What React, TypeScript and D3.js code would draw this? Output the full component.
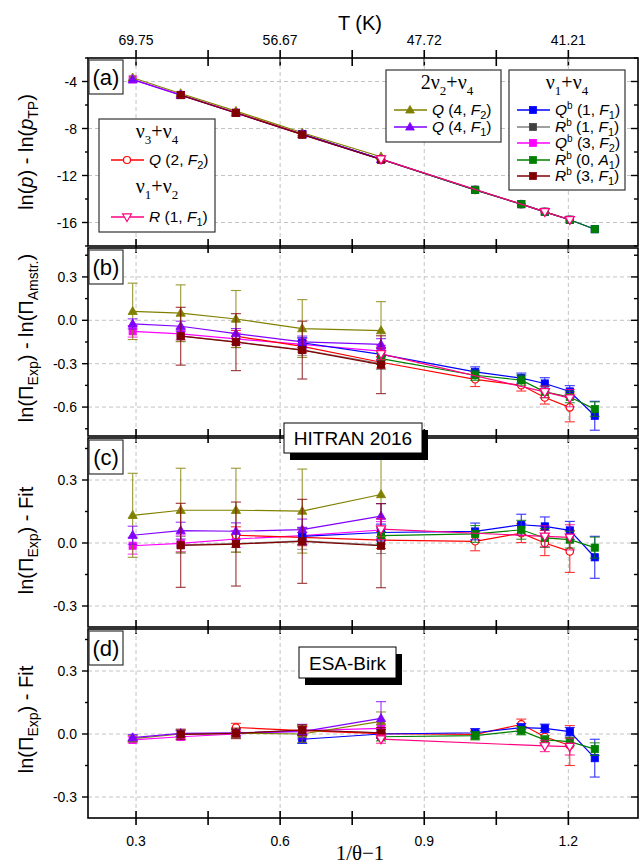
import React from "react";
import * as d3 from "d3";

// ---------- data ----------
const xValues = [0.293, 0.393, 0.508, 0.646, 0.81, 1.006, 1.102, 1.151, 1.203, 1.255];
const xMajorTicks = [0.3, 0.6, 0.9, 1.2];
const xMinorTicks = [0.45, 0.75, 1.05];
const tempLabels = ["69.75", "56.67", "47.72", "41.21"];

// which temperature points each band was measured at
const idxRed = [2, 3, 4, 5, 6, 7, 8];
const idxPink = [4, 7, 8];
const idxOlive = [0, 1, 2, 3, 4];
const idxPurple = [0, 1, 2, 3, 4];
const idxMagenta = [0, 1, 2, 3, 4];
const idxDarkRed = [1, 2, 3, 4];
const idxGray = [1, 2, 3, 4];
const idxBlue = [3, 4, 5, 6, 7, 8, 9];
const idxGreen = [4, 5, 6, 7, 8, 9];

// nu3+nu4 Q(2,F2)
const redA = [-6.64, -8.48, -10.61, -13.22, -14.44, -15.09, -15.77];
const redB = [-0.11, -0.18, -0.29, -0.408, -0.449, -0.534, -0.602];
const redBErr = [0.04, 0.04, 0.04, 0.05, 0.04, 0.045, 0.1];
const redC = [0.037, 0.027, 0.014, 0.008, 0.047, 0.0, -0.04];
const redCErr = [0.04, 0.04, 0.04, 0.045, 0.045, 0.06, 0.1];
const redD = [0.031, 0.016, 0.002, -0.002, 0.046, -0.013, -0.055];
const redDErr = [0.02, 0.02, 0.02, 0.02, 0.025, 0.03, 0.095];

// nu1+nu2 R(1,F1)
const pinkA = [-10.61, -15.09, -15.77];
const pinkB = [-0.232, -0.495, -0.538];
const pinkBErr = [0.04, 0.04, 0.06];
const pinkC = [0.066, 0.032, 0.027];
const pinkCErr = [0.05, 0.05, 0.06];
const pinkD = [-0.024, -0.057, -0.06];
const pinkDErr = [0.02, 0.027, 0.04];

// 2nu2+nu4 Q(4,F2)
const oliveA = [-3.68, -5.02, -6.52, -8.36, -10.4];
const oliveB = [0.062, 0.05, 0.009, -0.057, -0.071];
const oliveBErr = [0.195, 0.195, 0.197, 0.2, 0.2];
const oliveC = [0.132, 0.156, 0.156, 0.152, 0.231];
const oliveCErr = [0.2, 0.2, 0.2, 0.2, 0.2];
const oliveD = [-0.022, 0.0, 0.004, 0.0, 0.06];
const oliveDErr = [0.015, 0.015, 0.02, 0.04, 0.045];

// 2nu2+nu4 Q(4,F1)
const purpleA = [-3.84, -5.16, -6.68, -8.5, -10.63];
const purpleB = [-0.025, -0.041, -0.092, -0.149, -0.167];
const purpleBErr = [0.035, 0.035, 0.035, 0.04, 0.04];
const purpleC = [0.037, 0.059, 0.056, 0.064, 0.128];
const purpleCErr = [0.043, 0.04, 0.04, 0.05, 0.06];
const purpleD = [-0.017, 0.003, 0.006, 0.011, 0.074];
const purpleDErr = [0.015, 0.015, 0.015, 0.035, 0.08];

// nu1+nu4 Qb(3,F2)
const magentaA = [-3.82, -5.14, -6.65, -8.49, -10.62];
const magentaB = [-0.076, -0.094, -0.128, -0.167, -0.213];
const magentaBErr = [0.04, 0.04, 0.04, 0.04, 0.04];
const magentaC = [-0.013, -0.002, 0.019, 0.035, 0.062];
const magentaCErr = [0.04, 0.04, 0.04, 0.04, 0.04];
const magentaD = [-0.028, -0.013, 0.0, 0.016, 0.027];
const magentaDErr = [0.015, 0.015, 0.015, 0.015, 0.015];

// nu1+nu4 Rb(3,F1)
const darkRedA = [-5.16, -6.68, -8.52, -10.64];
const darkRedB = [-0.11, -0.151, -0.206, -0.307];
const darkRedBErr = [0.2, 0.197, 0.2, 0.2];
const darkRedC = [-0.011, -0.005, 0.008, -0.013];
const darkRedCErr = [0.2, 0.2, 0.2, 0.2];
const darkRedD = [-0.002, 0.003, 0.019, 0.006];
const darkRedDErr = [0.025, 0.025, 0.025, 0.025];

// nu1+nu4 Rb(1,F1)
const grayA = [-5.15, -6.67, -8.51, -10.63];
const grayB = [-0.108, -0.149, -0.204, -0.3];
const grayBErr = [0.04, 0.04, 0.04, 0.04];
const grayC = [-0.009, -0.003, 0.01, -0.01];
const grayCErr = [0.04, 0.04, 0.04, 0.04];
const grayD = [-0.002, 0.003, 0.018, 0.005];
const grayDErr = [0.02, 0.02, 0.02, 0.02];

// nu1+nu4 Qb(1,F1)
const blueA = [-8.48, -10.61, -13.22, -14.44, -15.09, -15.77, -16.57];
const blueB = [-0.155, -0.236, -0.357, -0.4, -0.437, -0.492, -0.66];
const blueBErr = [0.035, 0.04, 0.035, 0.035, 0.04, 0.04, 0.1];
const blueC = [0.032, 0.05, 0.055, 0.087, 0.079, 0.06, -0.068];
const blueCErr = [0.04, 0.04, 0.04, 0.05, 0.045, 0.043, 0.1];
const blueD = [-0.025, 0.0, 0.006, 0.03, 0.027, 0.011, -0.115];
const blueDErr = [0.02, 0.02, 0.02, 0.02, 0.02, 0.02, 0.09];

// nu1+nu4 Rb(0,A1)
const greenA = [-10.62, -13.22, -14.44, -15.09, -15.77, -16.57];
const greenB = [-0.265, -0.38, -0.414, -0.495, -0.53, -0.614];
const greenBErr = [0.04, 0.035, 0.035, 0.04, 0.04, 0.05];
const greenC = [0.035, 0.043, 0.063, 0.024, 0.016, -0.022];
const greenCErr = [0.04, 0.04, 0.045, 0.045, 0.04, 0.05];
const greenD = [-0.013, -0.008, 0.016, -0.028, -0.036, -0.072];
const greenDErr = [0.02, 0.02, 0.02, 0.02, 0.02, 0.03];

type Shape = "square" | "circle" | "up" | "down";
interface Series {
  key: string;
  line: string;
  mark: string;
  shape: Shape;
  open: boolean;
  idx: number[];
  vals: number[][]; // per panel a,b,c,d
  errs: (number[] | null)[];
}

const series: Series[] = [
  { key: "gray", line: "#808080", mark: "#404040", shape: "square", open: false, idx: idxGray, vals: [grayA, grayB, grayC, grayD], errs: [null, grayBErr, grayCErr, grayDErr] },
  { key: "magenta", line: "#FF00FF", mark: "#FF00FF", shape: "square", open: false, idx: idxMagenta, vals: [magentaA, magentaB, magentaC, magentaD], errs: [null, magentaBErr, magentaCErr, magentaDErr] },
  { key: "red", line: "#FF0000", mark: "#FF0000", shape: "circle", open: true, idx: idxRed, vals: [redA, redB, redC, redD], errs: [null, redBErr, redCErr, redDErr] },
  { key: "blue", line: "#0000FF", mark: "#0000FF", shape: "square", open: false, idx: idxBlue, vals: [blueA, blueB, blueC, blueD], errs: [null, blueBErr, blueCErr, blueDErr] },
  { key: "green", line: "#008000", mark: "#008000", shape: "square", open: false, idx: idxGreen, vals: [greenA, greenB, greenC, greenD], errs: [null, greenBErr, greenCErr, greenDErr] },
  { key: "olive", line: "#808000", mark: "#808000", shape: "up", open: false, idx: idxOlive, vals: [oliveA, oliveB, oliveC, oliveD], errs: [null, oliveBErr, oliveCErr, oliveDErr] },
  { key: "purple", line: "#8000FF", mark: "#8000FF", shape: "up", open: false, idx: idxPurple, vals: [purpleA, purpleB, purpleC, purpleD], errs: [null, purpleBErr, purpleCErr, purpleDErr] },
  { key: "darkred", line: "#800000", mark: "#800000", shape: "square", open: false, idx: idxDarkRed, vals: [darkRedA, darkRedB, darkRedC, darkRedD], errs: [null, darkRedBErr, darkRedCErr, darkRedDErr] },
  { key: "pink", line: "#FF0080", mark: "#FF0080", shape: "down", open: true, idx: idxPink, vals: [pinkA, pinkB, pinkC, pinkD], errs: [null, pinkBErr, pinkCErr, pinkDErr] },
];
const seriesByKey: Record<string, Series> = {};
series.forEach((s) => (seriesByKey[s.key] = s));

// ---------- layout ----------
const W = 640;
const H = 866;
const LEFT = 88;
const RIGHT = 638;
const FONT = "Arial, 'Liberation Sans', Helvetica, sans-serif";
const SERIF = "'Times New Roman', 'Liberation Serif', 'DejaVu Serif', serif";

const xScale = d3.scaleLinear().domain([0.2, 1.345]).range([LEFT, RIGHT]);

interface Panel {
  label: string;
  top: number;
  bottom: number;
  domain: [number, number];
  major: number[];
  minor: number[];
  fmt: (v: number) => string;
}
const fmt1 = (v: number) => (Math.abs(v) < 1e-9 ? "0.0" : v.toFixed(1));
const panels: Panel[] = [
  { label: "(a)", top: 58, bottom: 246, domain: [-18, -2], major: [-4, -8, -12, -16], minor: [-2, -6, -10, -14, -18], fmt: (v) => String(v) },
  { label: "(b)", top: 248, bottom: 436, domain: [-0.8, 0.5], major: [0.3, 0, -0.3, -0.6], minor: [0.45, 0.15, -0.15, -0.45, -0.75], fmt: fmt1 },
  { label: "(c)", top: 438, bottom: 627, domain: [-0.4, 0.5], major: [0.3, 0, -0.3], minor: [0.45, 0.15, -0.15], fmt: fmt1 },
  { label: "(d)", top: 629, bottom: 818, domain: [-0.4, 0.5], major: [0.3, 0, -0.3], minor: [0.45, 0.15, -0.15], fmt: fmt1 },
];

function Marker({ shape, x, y, color, open, s = 1 }: { shape: Shape; x: number; y: number; color: string; open: boolean; s?: number }) {
  const fill = open ? "#fff" : color;
  const sw = open ? 1.2 : 0.8;
  if (shape === "square") {
    const h = 3.6 * s;
    return <rect x={x - h} y={y - h} width={2 * h} height={2 * h} fill={fill} stroke={color} strokeWidth={sw} />;
  }
  if (shape === "circle") {
    return <circle cx={x} cy={y} r={3.7 * s} fill={fill} stroke={color} strokeWidth={sw} />;
  }
  if (shape === "up") {
    const w = 4.6 * s;
    const h = 8 * s;
    const p = `M${x},${y - h * 0.6}L${x + w},${y + h * 0.4}L${x - w},${y + h * 0.4}Z`;
    return <path d={p} fill={fill} stroke={color} strokeWidth={sw} />;
  }
  const w = 4.6 * s;
  const h = 8 * s;
  const p = `M${x},${y + h * 0.6}L${x + w},${y - h * 0.4}L${x - w},${y - h * 0.4}Z`;
  return <path d={p} fill={fill} stroke={color} strokeWidth={sw} />;
}

function PanelView({ p, pi }: { p: Panel; pi: number }) {
  const y = d3.scaleLinear().domain(p.domain).range([p.bottom, p.top]);
  const clipId = `clip-${pi}`;
  const line = d3
    .line<[number, number]>()
    .x((d) => xScale(d[0]))
    .y((d) => y(d[1]));
  return (
    <g>
      <defs>
        <clipPath id={clipId}>
          <rect x={LEFT} y={p.top} width={RIGHT - LEFT} height={p.bottom - p.top} />
        </clipPath>
      </defs>
      {/* grid */}
      <g stroke="#c4c4c4" strokeWidth={1} strokeDasharray="4,3">
        {xMajorTicks.map((t) => (
          <line key={"gx" + t} x1={xScale(t)} x2={xScale(t)} y1={p.top} y2={p.bottom} />
        ))}
        {p.major.map((t) => (
          <line key={"gy" + t} x1={LEFT} x2={RIGHT} y1={y(t)} y2={y(t)} />
        ))}
      </g>
      {/* data */}
      <g clipPath={`url(#${clipId})`}>
        {series.map((s) => {
          const vals = s.vals[pi];
          const errs = s.errs[pi];
          const pts: [number, number][] = s.idx.map((k, i) => [xValues[k], vals[i]]);
          return (
            <g key={s.key}>
              <path d={line(pts) || ""} fill="none" stroke={s.line} strokeWidth={1.2} />
              {errs &&
                pts.map((d, i) => {
                  const cx = xScale(d[0]);
                  const y1 = y(d[1] + errs[i]);
                  const y2 = y(d[1] - errs[i]);
                  return (
                    <g key={"e" + i} stroke={s.line} strokeWidth={1.1} opacity={0.8}>
                      <line x1={cx} x2={cx} y1={y1} y2={y2} />
                      <line x1={cx - 5} x2={cx + 5} y1={y1} y2={y1} />
                      <line x1={cx - 5} x2={cx + 5} y1={y2} y2={y2} />
                    </g>
                  );
                })}
              {pts.map((d, i) => (
                <Marker key={"m" + i} shape={s.shape} x={xScale(d[0])} y={y(d[1])} color={s.mark} open={s.open} />
              ))}
            </g>
          );
        })}
      </g>
      {/* frame */}
      <rect x={LEFT} y={p.top} width={RIGHT - LEFT} height={p.bottom - p.top} fill="none" stroke="#000" strokeWidth={1.6} />
      {/* x ticks at bottom, crossing */}
      <g stroke="#000" strokeWidth={1.6}>
        {xMajorTicks.concat(xMinorTicks).map((t) => (
          <line key={"xt" + t} x1={xScale(t)} x2={xScale(t)} y1={p.bottom - 7} y2={p.bottom + 7} />
        ))}
      </g>
      {/* y ticks */}
      <g stroke="#000" strokeWidth={1.4}>
        {p.major.map((t) => (
          <g key={"yt" + t}>
            <line x1={LEFT - 6} x2={LEFT} y1={y(t)} y2={y(t)} />
            <line x1={RIGHT - 7} x2={RIGHT} y1={y(t)} y2={y(t)} />
          </g>
        ))}
        {p.minor.map((t) => (
          <g key={"ym" + t}>
            <line x1={LEFT - 3} x2={LEFT} y1={y(t)} y2={y(t)} />
            <line x1={RIGHT - 4} x2={RIGHT} y1={y(t)} y2={y(t)} />
          </g>
        ))}
      </g>
      <g fontFamily={FONT} fontSize={14} textAnchor="end">
        {p.major.map((t) => (
          <text key={"yl" + t} x={LEFT - 11} y={y(t) + 5}>
            {p.fmt(t)}
          </text>
        ))}
      </g>
      {/* panel label */}
      <rect x={LEFT + 1} y={p.top + 2} width={34} height={34} fill="#fff" stroke="#333" strokeWidth={1.2} />
      <text x={LEFT + 18} y={p.top + 27} fontFamily={FONT} fontSize={22} textAnchor="middle">
        {p.label}
      </text>
    </g>
  );
}

function LegendEntry({ s, x0, y0, children }: { s: Series; x0: number; y0: number; children: React.ReactNode }) {
  return (
    <g>
      <line x1={x0} x2={x0 + 33} y1={y0} y2={y0} stroke={s.line} strokeWidth={1.3} />
      <Marker shape={s.shape} x={x0 + 16} y={y0} color={s.mark} open={s.open} s={0.95} />
      <text x={x0 + 38} y={y0 + 5} fontFamily={FONT} fontSize={15.5}>
        {children}
      </text>
    </g>
  );
}

const It = ({ t }: { t: string }) => <tspan fontStyle="italic">{t}</tspan>;

function Band({ x, y, a, sa, b, sb }: { x: number; y: number; a: string; sa: string; b: string; sb: string }) {
  return (
    <text x={x} y={y} fontFamily={SERIF} fontSize={20} textAnchor="middle">
      {a}
      <tspan dy={6} fontSize={13}>
        {sa}
      </tspan>
      <tspan dy={-6}>{b}</tspan>
      <tspan dy={6} fontSize={13}>
        {sb}
      </tspan>
    </text>
  );
}

function Lab({ q, sup, n, f, sub }: { q: string; sup?: string; n: string; f: string; sub: string }) {
  return (
    <>
      <It t={q} />
      {sup ? (
        <tspan dy={-6} fontSize={10}>
          {sup}
        </tspan>
      ) : null}
      <tspan dy={sup ? 6 : 0}>{` (${n}, `}</tspan>
      <It t={f} />
      <tspan dy={4} fontSize={11}>
        {sub}
      </tspan>
      <tspan dy={-4}>)</tspan>
    </>
  );
}

function YTitle({ cy, children }: { cy: number; children: React.ReactNode }) {
  return (
    <text transform={`translate(33,${cy}) rotate(-90)`} fontFamily={FONT} fontSize={20} textAnchor="middle">
      {children}
    </text>
  );
}

function ShadowBox({ x, y, w, h, text }: { x: number; y: number; w: number; h: number; text: string }) {
  return (
    <g>
      <rect x={x + 6} y={y + 7} width={w} height={h} fill="#000" />
      <rect x={x} y={y} width={w} height={h} fill="#fff" stroke="#000" strokeWidth={1} />
      <text x={x + w / 2} y={y + h / 2 + 7} fontFamily={FONT} fontSize={19} textAnchor="middle">
        {text}
      </text>
    </g>
  );
}

export default function App() {
  const pa = panels[0];
  return (
    <svg width={W} height={H} viewBox={`0 0 ${W} ${H}`} style={{ position: "absolute", left: 0, top: 0, background: "#fff" }}>
      <rect width={W} height={H} fill="#fff" />
      {/* top axis */}
      <text x={360} y={30} fontFamily={FONT} fontSize={20} textAnchor="middle">
        T (K)
      </text>
      <g stroke="#000" strokeWidth={1.6}>
        {xMajorTicks.concat(xMinorTicks).map((t) => (
          <line key={"tt" + t} x1={xScale(t)} x2={xScale(t)} y1={pa.top - 8} y2={pa.top + 8} />
        ))}
      </g>
      <g fontFamily={FONT} fontSize={14} textAnchor="middle">
        {xMajorTicks.map((t, i) => (
          <text key={"tl" + t} x={xScale(t)} y={45}>
            {tempLabels[i]}
          </text>
        ))}
      </g>
      {panels.map((p, i) => (
        <PanelView key={p.label} p={p} pi={i} />
      ))}
      {/* bottom axis labels */}
      <g fontFamily={FONT} fontSize={14} textAnchor="middle">
        {xMajorTicks.map((t) => (
          <text key={"bl" + t} x={xScale(t)} y={846}>
            {t.toFixed(1)}
          </text>
        ))}
      </g>
      <text x={360} y={860} fontFamily={SERIF} fontSize={21} textAnchor="middle">
        1/θ−1
      </text>

      {/* y titles */}
      <YTitle cy={(panels[0].top + panels[0].bottom) / 2}>
        ln(<It t="p" />) - ln(<It t="p" />
        <tspan dy={5} fontSize={14}>
          TP
        </tspan>
        <tspan dy={-5}>)</tspan>
      </YTitle>
      <YTitle cy={(panels[1].top + panels[1].bottom) / 2 - 4}>
        ln(Π
        <tspan dy={5} fontSize={14}>
          Exp
        </tspan>
        <tspan dy={-5}>) - ln(Π</tspan>
        <tspan dy={5} fontSize={14}>
          Amstr.
        </tspan>
        <tspan dy={-5}>)</tspan>
      </YTitle>
      {[2, 3].map((k) => (
        <YTitle key={"yt" + k} cy={(panels[k].top + panels[k].bottom) / 2 + (k === 2 ? 8 : -4)}>
          ln(Π
          <tspan dy={5} fontSize={14}>
            Exp
          </tspan>
          <tspan dy={-5}>) - Fit</tspan>
        </YTitle>
      ))}

      {/* legend 1 */}
      <g>
        <rect x={99} y={119} width={116} height={113} fill="#fff" stroke="#333" strokeWidth={1.2} />
        <Band x={157} y={138} a="ν" sa="3" b="+ν" sb="4" />
        <LegendEntry s={seriesByKey.red} x0={111} y0={160}>
          <Lab q="Q" n="2" f="F" sub="2" />
        </LegendEntry>
        <Band x={157} y={193} a="ν" sa="1" b="+ν" sb="2" />
        <LegendEntry s={seriesByKey.pink} x0={111} y0={217}>
          <Lab q="R" n="1" f="F" sub="1" />
        </LegendEntry>
      </g>
      {/* legend 2 */}
      <g>
        <rect x={386} y={70} width={115} height={72} fill="#fff" stroke="#333" strokeWidth={1.2} />
        <Band x={447} y={89} a="2ν" sa="2" b="+ν" sb="4" />
        <LegendEntry s={seriesByKey.olive} x0={394} y0={110}>
          <Lab q="Q" n="4" f="F" sub="2" />
        </LegendEntry>
        <LegendEntry s={seriesByKey.purple} x0={394} y0={127}>
          <Lab q="Q" n="4" f="F" sub="1" />
        </LegendEntry>
      </g>
      {/* legend 3 */}
      <g>
        <rect x={509} y={70} width={116} height={120} fill="#fff" stroke="#333" strokeWidth={1.2} />
        <Band x={567} y={89} a="ν" sa="1" b="+ν" sb="4" />
        <LegendEntry s={seriesByKey.blue} x0={517} y0={110}>
          <Lab q="Q" sup="b" n="1" f="F" sub="1" />
        </LegendEntry>
        <LegendEntry s={seriesByKey.gray} x0={517} y0={127}>
          <Lab q="R" sup="b" n="1" f="F" sub="1" />
        </LegendEntry>
        <LegendEntry s={seriesByKey.magenta} x0={517} y0={143}>
          <Lab q="Q" sup="b" n="3" f="F" sub="2" />
        </LegendEntry>
        <LegendEntry s={seriesByKey.green} x0={517} y0={160}>
          <Lab q="R" sup="b" n="0" f="A" sub="1" />
        </LegendEntry>
        <LegendEntry s={seriesByKey.darkred} x0={517} y0={176}>
          <Lab q="R" sup="b" n="3" f="F" sub="1" />
        </LegendEntry>
      </g>

      <ShadowBox x={284} y={423} w={138} h={30} text="HITRAN 2016" />
      <ShadowBox x={299} y={647} w={97} h={31} text="ESA-Birk" />
    </svg>
  );
}
